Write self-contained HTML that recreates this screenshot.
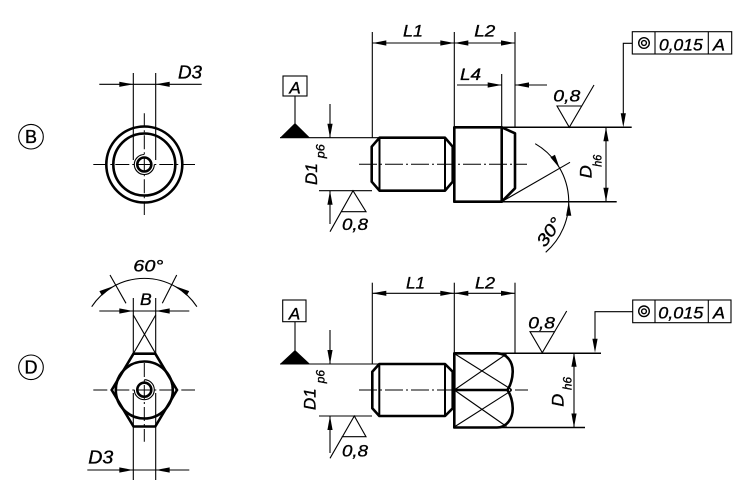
<!DOCTYPE html>
<html><head><meta charset="utf-8"><style>
html,body{margin:0;padding:0;background:#fff;}
svg{display:block;}
text{font-family:"Liberation Sans",sans-serif;font-style:italic;fill:#000;stroke:#000;stroke-width:0.35;}
.t{stroke:#000;stroke-width:1.1;fill:none;}
.m{stroke:#000;stroke-width:1.5;fill:none;}
.k{stroke:#000;stroke-width:2.6;fill:none;stroke-linejoin:round;}
.c{stroke:#000;stroke-width:1;fill:none;stroke-dasharray:14 3 2 3;}
</style></head><body>
<svg width="750" height="498" viewBox="0 0 750 498" xmlns="http://www.w3.org/2000/svg">
<defs><polygon id="ar" points="0,0 -14,-2.6 -14,2.6" fill="#000"/></defs>

<!-- ===== B view (top-left) ===== -->
<circle cx="31" cy="136.7" r="12.3" class="t"/>
<text x="31" y="143" font-size="18" text-anchor="middle" style="font-style:normal">B</text>
<circle cx="144.3" cy="164.5" r="38" class="k"/>
<circle cx="144.3" cy="164.5" r="31" class="k"/>
<circle cx="144.3" cy="164.5" r="7" class="k"/>
<path d="M154.3,164.5 A10,10 0 1 1 144.3,154.5" class="t"/>
<line x1="93.3" y1="164.5" x2="195" y2="164.5" class="c"/>
<line x1="144.3" y1="113.3" x2="144.3" y2="215" class="c"/>
<line x1="133.3" y1="73" x2="133.3" y2="160" class="t"/>
<line x1="155.7" y1="73" x2="155.7" y2="160" class="t"/>
<line x1="99.3" y1="84.3" x2="201.7" y2="84.3" class="t"/>
<use href="#ar" transform="translate(133.3,84.3)"/>
<use href="#ar" transform="translate(155.7,84.3) rotate(180)"/>
<text x="178" y="78.3" font-size="18" textLength="24" lengthAdjust="spacingAndGlyphs">D3</text>

<!-- ===== Top side view ===== -->
<line x1="372.3" y1="32" x2="372.3" y2="137.7" class="t"/>
<line x1="454.3" y1="32" x2="454.3" y2="127.3" class="t"/>
<line x1="515" y1="32" x2="515" y2="127.3" class="t"/>
<line x1="372.3" y1="43" x2="515" y2="43" class="t"/>
<use href="#ar" transform="translate(372.3,43) rotate(180)"/>
<use href="#ar" transform="translate(454.3,43)"/>
<use href="#ar" transform="translate(454.3,43) rotate(180)"/>
<use href="#ar" transform="translate(515,43)"/>
<text x="403" y="36.7" font-size="17" textLength="20" lengthAdjust="spacingAndGlyphs">L1</text>
<text x="474.3" y="36.7" font-size="17" textLength="21" lengthAdjust="spacingAndGlyphs">L2</text>
<line x1="501.7" y1="74" x2="501.7" y2="127.3" class="t"/>
<line x1="457" y1="85" x2="501.7" y2="85" class="t"/>
<line x1="515" y1="85" x2="547" y2="85" class="t"/>
<use href="#ar" transform="translate(501.7,85)"/>
<use href="#ar" transform="translate(515,85) rotate(180)"/>
<text x="460" y="80" font-size="17" textLength="21" lengthAdjust="spacingAndGlyphs">L4</text>
<rect x="283" y="76" width="24" height="20" class="t"/>
<text x="295" y="93.3" font-size="17" text-anchor="middle">A</text>
<line x1="295" y1="96" x2="295" y2="124" class="t"/>
<polygon points="280,137.7 310,137.7 295,123" fill="#000"/>
<line x1="280" y1="137.7" x2="380" y2="137.7" class="t"/>
<line x1="319" y1="190.7" x2="372" y2="190.7" class="t"/>
<line x1="330" y1="104" x2="330" y2="137.7" class="t"/>
<line x1="330" y1="190.7" x2="330" y2="224" class="t"/>
<use href="#ar" transform="translate(330,137.7) rotate(90)"/>
<use href="#ar" transform="translate(330,190.7) rotate(-90)"/>
<text transform="translate(317,185) rotate(-90)" font-size="17" textLength="22" lengthAdjust="spacingAndGlyphs">D1</text>
<text transform="translate(324.5,158.3) rotate(-90)" font-size="12" textLength="14" lengthAdjust="spacingAndGlyphs">p6</text>
<path d="M330,231.7 L353,190.7 L366,211.7 L341.7,211.7" class="t"/>
<text x="342" y="230" font-size="17" textLength="26" lengthAdjust="spacingAndGlyphs">0,8</text>
<polygon points="379.5,137.7 445,137.7 452.7,146.7 452.7,181.7 445,190.7 379.5,190.7 371.7,181.7 371.7,146.7" class="k"/>
<line x1="379.5" y1="137.7" x2="379.5" y2="190.7" class="m" style="stroke-width:2"/>
<line x1="445" y1="137.7" x2="445" y2="190.7" class="m" style="stroke-width:2"/>
<rect x="454.3" y="127.3" width="47.4" height="74.4" class="k"/>
<polyline points="501.7,127.3 515,133.3 515,188.3 501.7,201.7" class="k"/>
<line x1="501.7" y1="127.3" x2="631.7" y2="127.3" class="m"/>
<line x1="501.7" y1="201.7" x2="616.7" y2="201.7" class="m"/>
<line x1="359" y1="164.3" x2="527" y2="164.3" class="c" style="stroke-dasharray:18 3 2 3"/>
<line x1="501.7" y1="201.7" x2="570" y2="162.3" class="t"/>
<path d="M535.2,143.7 A67,67 0 0 1 545.7,252.3" class="t"/>
<use href="#ar" transform="translate(559.7,168.2) rotate(60)"/>
<use href="#ar" transform="translate(568.7,201.7) rotate(-90)"/>
<text transform="translate(545,248) rotate(-55)" font-size="17" textLength="31" lengthAdjust="spacingAndGlyphs">30°</text>
<path d="M594,85 L569.3,127.3 L557,106 L581.7,106" class="t"/>
<text x="553.3" y="101.7" font-size="17" textLength="27" lengthAdjust="spacingAndGlyphs">0,8</text>
<line x1="606" y1="127.3" x2="606" y2="201.7" class="t"/>
<use href="#ar" transform="translate(606,127.3) rotate(-90)"/>
<use href="#ar" transform="translate(606,201.7) rotate(90)"/>
<text transform="translate(591.7,178.3) rotate(-90)" font-size="17" textLength="13" lengthAdjust="spacingAndGlyphs">D</text>
<text transform="translate(601.5,166.7) rotate(-90)" font-size="12" textLength="12" lengthAdjust="spacingAndGlyphs">h6</text>
<rect x="632.3" y="31.7" width="99.4" height="22.3" class="t"/>
<line x1="655" y1="31.7" x2="655" y2="54" class="t"/>
<line x1="708.3" y1="31.7" x2="708.3" y2="54" class="t"/>
<circle cx="644" cy="43" r="5.3" class="t" style="stroke-width:1.4"/>
<circle cx="644" cy="43" r="2.4" class="t" style="stroke-width:1.4"/>
<text x="659" y="50.7" font-size="17" textLength="43.7" lengthAdjust="spacingAndGlyphs">0,015</text>
<text x="713" y="50.7" font-size="17" textLength="12" lengthAdjust="spacingAndGlyphs">A</text>
<polyline points="632.3,43.3 623.3,43.3 623.3,120" class="t"/>
<use href="#ar" transform="translate(623.3,127.3) rotate(90)"/>

<!-- ===== D view (bottom-left) ===== -->
<circle cx="31" cy="367.3" r="12.3" class="t"/>
<text x="31" y="373.6" font-size="18" text-anchor="middle" style="font-style:normal">D</text>
<line x1="110" y1="275" x2="126" y2="303.3" class="t"/>
<line x1="176.7" y1="275" x2="162.3" y2="303.3" class="t"/>
<path d="M91.7,306.7 A63,63 0 0 1 196.9,306.7" class="t"/>
<use href="#ar" transform="translate(112.8,286.4) rotate(-30)"/>
<use href="#ar" transform="translate(175.8,286.4) rotate(-150)"/>
<text x="133.3" y="271.7" font-size="17" textLength="30" lengthAdjust="spacingAndGlyphs">60°</text>
<line x1="133.3" y1="298" x2="133.3" y2="353.7" class="t"/>
<line x1="155.7" y1="298" x2="155.7" y2="353.7" class="t"/>
<line x1="133.3" y1="315" x2="155.7" y2="353.7" class="t"/>
<line x1="155.7" y1="315" x2="133.3" y2="353.7" class="t"/>
<line x1="99.3" y1="311" x2="189.3" y2="311" class="t"/>
<use href="#ar" transform="translate(133.3,311)"/>
<use href="#ar" transform="translate(155.7,311) rotate(180)"/>
<text x="140" y="305" font-size="17" textLength="11.7" lengthAdjust="spacingAndGlyphs">B</text>
<polygon points="133.5,353.7 155.3,353.7 177,390 155.3,426.5 133.5,426.5 111.7,390" class="k"/>
<circle cx="144.3" cy="390" r="28.5" class="k"/>
<circle cx="144.3" cy="389.7" r="7" class="k"/>
<path d="M144.3,379.7 A10,10 0 1 1 134.3,389.7" class="t"/>
<line x1="93.3" y1="390" x2="195" y2="390" class="c"/>
<line x1="144.3" y1="363" x2="144.3" y2="441.7" class="c"/>
<line x1="133.3" y1="393" x2="133.3" y2="480" class="t"/>
<line x1="155.7" y1="393" x2="155.7" y2="480" class="t"/>
<line x1="87.3" y1="470" x2="189.3" y2="470" class="t"/>
<use href="#ar" transform="translate(133.3,470)"/>
<use href="#ar" transform="translate(155.7,470) rotate(180)"/>
<text x="88.3" y="463.3" font-size="18" textLength="25" lengthAdjust="spacingAndGlyphs">D3</text>

<!-- ===== Bottom side view ===== -->
<line x1="372.3" y1="282.7" x2="372.3" y2="364" class="t"/>
<line x1="454.3" y1="282.7" x2="454.3" y2="353.3" class="t"/>
<line x1="515" y1="282.7" x2="515" y2="353.3" class="t"/>
<line x1="372.3" y1="293.3" x2="515" y2="293.3" class="t"/>
<use href="#ar" transform="translate(372.3,293.3) rotate(180)"/>
<use href="#ar" transform="translate(454.3,293.3)"/>
<use href="#ar" transform="translate(454.3,293.3) rotate(180)"/>
<use href="#ar" transform="translate(515,293.3)"/>
<text x="406" y="288.3" font-size="17" textLength="19" lengthAdjust="spacingAndGlyphs">L1</text>
<text x="475" y="288.3" font-size="17" textLength="20" lengthAdjust="spacingAndGlyphs">L2</text>
<rect x="282.7" y="300" width="23.3" height="21.7" class="t"/>
<text x="294.5" y="319.5" font-size="17" text-anchor="middle">A</text>
<line x1="295" y1="321.7" x2="295" y2="351" class="t"/>
<polygon points="280,364 310,364 295,350" fill="#000"/>
<line x1="280" y1="364" x2="380" y2="364" class="t"/>
<line x1="319" y1="416" x2="372" y2="416" class="t"/>
<line x1="330" y1="330" x2="330" y2="364" class="t"/>
<line x1="330" y1="416" x2="330" y2="453" class="t"/>
<use href="#ar" transform="translate(330,364) rotate(90)"/>
<use href="#ar" transform="translate(330,416) rotate(-90)"/>
<text transform="translate(315.5,410) rotate(-90)" font-size="17" textLength="21.7" lengthAdjust="spacingAndGlyphs">D1</text>
<text transform="translate(324.5,383.3) rotate(-90)" font-size="12" textLength="13.3" lengthAdjust="spacingAndGlyphs">p6</text>
<path d="M330,458.3 L354.3,416 L366,436.7 L341.7,436.7" class="t"/>
<text x="342" y="456.7" font-size="17" textLength="26" lengthAdjust="spacingAndGlyphs">0,8</text>
<polygon points="379.3,364 445,364 452.7,371.7 452.7,408.3 445,416 379.3,416 372.3,408.3 372.3,371.7" class="k"/>
<line x1="379.3" y1="364" x2="379.3" y2="416" class="m" style="stroke-width:2"/>
<line x1="445" y1="364" x2="445" y2="416" class="m" style="stroke-width:2"/>
<path d="M455,354 L511.5,389.5 M455,389.5 L506.5,354 M455,390.5 L506.5,426.5 M455,426.5 L511.5,390.5" class="t"/>
<path d="M454.3,353.3 L497,353.3 C507,353.3 513,362 512.7,372 C512.5,381 510,386 507.5,390 C510,394 512.5,399 512.7,408 C513,418 507,427.5 497,427.5 L454.3,427.5 Z" class="k"/>
<line x1="454.3" y1="390" x2="508" y2="390" class="k"/>
<line x1="497" y1="353.3" x2="601" y2="353.3" class="m"/>
<line x1="497" y1="427.5" x2="585" y2="427.5" class="m"/>
<line x1="359" y1="390" x2="528" y2="390" class="c" style="stroke-dasharray:18 3 2 3"/>
<path d="M566.7,311 L542.3,352.7 L530,331.7 L555,331.7" class="t"/>
<text x="528.3" y="328.3" font-size="17" textLength="26.7" lengthAdjust="spacingAndGlyphs">0,8</text>
<line x1="574" y1="352.7" x2="574" y2="427.5" class="t"/>
<use href="#ar" transform="translate(574,352.7) rotate(-90)"/>
<use href="#ar" transform="translate(574,427.5) rotate(90)"/>
<text transform="translate(563.3,406.7) rotate(-90)" font-size="17" textLength="13" lengthAdjust="spacingAndGlyphs">D</text>
<text transform="translate(571.7,390) rotate(-90)" font-size="12" textLength="13" lengthAdjust="spacingAndGlyphs">h6</text>
<rect x="632.7" y="300" width="98.3" height="22.7" class="t"/>
<line x1="655" y1="300" x2="655" y2="322.7" class="t"/>
<line x1="708.3" y1="300" x2="708.3" y2="322.7" class="t"/>
<circle cx="644" cy="311.3" r="5.3" class="t" style="stroke-width:1.4"/>
<circle cx="644" cy="311.3" r="2.4" class="t" style="stroke-width:1.4"/>
<text x="658.3" y="318.3" font-size="17" textLength="45" lengthAdjust="spacingAndGlyphs">0,015</text>
<text x="713" y="318.3" font-size="17" textLength="12" lengthAdjust="spacingAndGlyphs">A</text>
<polyline points="632.7,311.7 595,311.7 595,345" class="t"/>
<use href="#ar" transform="translate(595,352.7) rotate(90)"/>
</svg>
</body></html>
